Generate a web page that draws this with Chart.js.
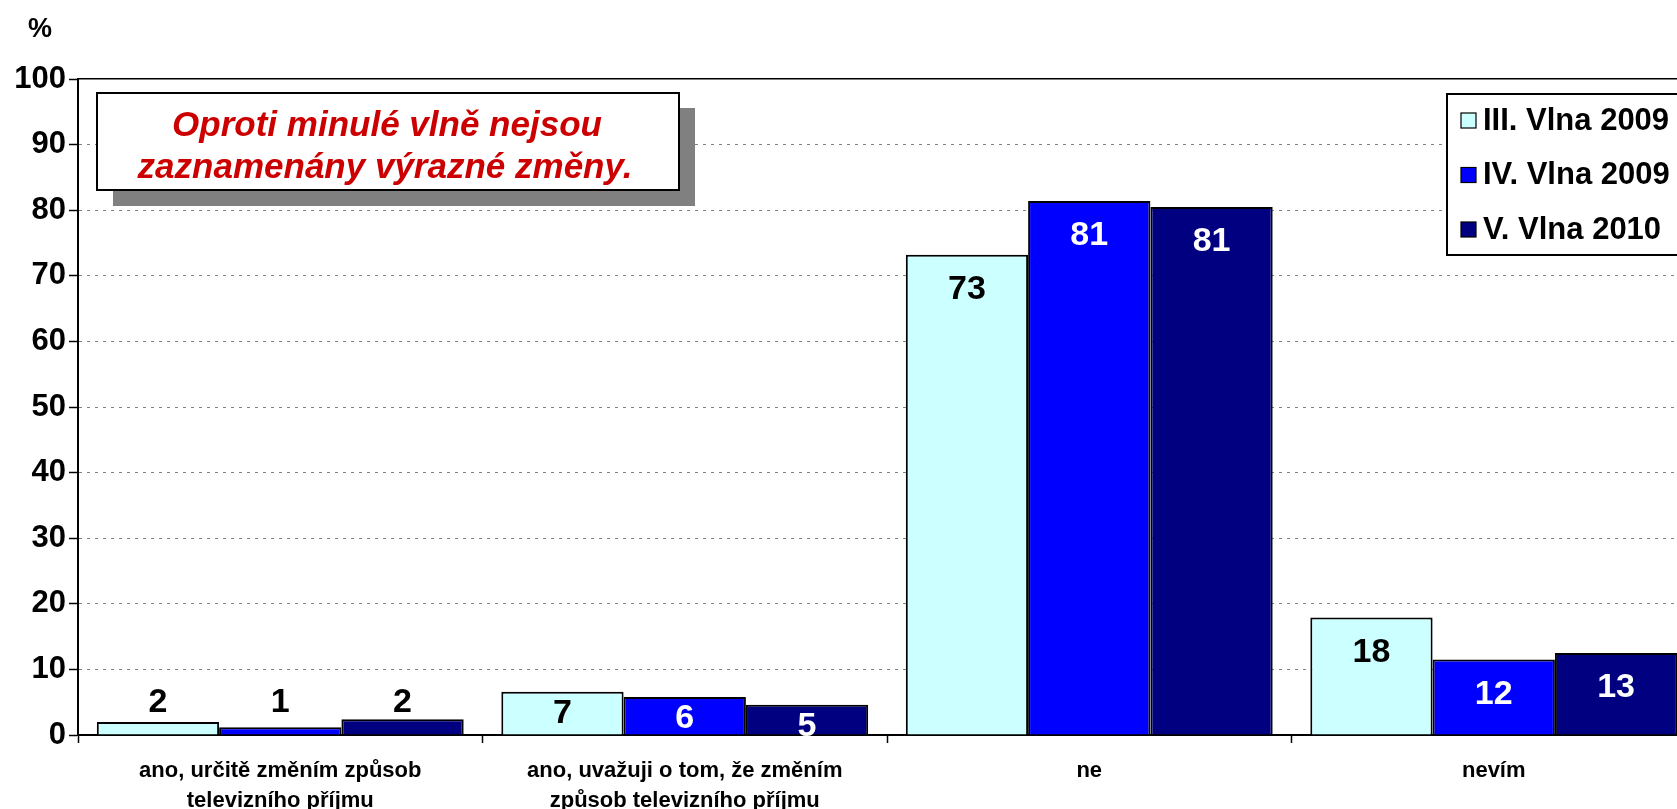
<!DOCTYPE html>
<html>
<head>
<meta charset="utf-8">
<script src="https://cdn.jsdelivr.net/npm/chart.js@4/dist/chart.umd.min.js"></script>
<style>
    html, body { margin: 0; padding: 0; background: #fff; overflow: hidden; }
    #wrap { width: 1696px; height: 809px; }
</style>
</head>
<body>
<div id="wrap"><canvas id="tvChart" width="1696" height="809"></canvas></div>
<script>
// Data
const categories = [
    ['ano, určitě změním způsob', 'televizního příjmu'],
    ['ano, uvažuji o tom, že změním', 'způsob televizního příjmu'],
    'ne',
    'nevím'
];
const seriesNames = ['III. Vlna 2009', 'IV. Vlna 2009', 'V. Vlna 2010'];
const wave3 = [2.0, 6.6, 73.2, 17.9];
const wave4 = [1.2, 5.8, 81.4, 11.5];
const wave5 = [2.4, 4.6, 80.5, 12.5];
const yTicks = [0, 10, 20, 30, 40, 50, 60, 70, 80, 90, 100];
const noteLines = ['Oproti minulé vlně nejsou', 'zaznamenány výrazné změny.'];

const FONT = "'Liberation Sans', Arial, sans-serif";
const barColors = ['#CCFFFF', '#0000FF', '#000080'];
const labelColors = ['#000', '#fff', '#fff'];

let tvChart = null;

// data labels, note box, legend, "%"
const overlayPlugin = {
    id: 'overlay',
    afterDatasetsDraw(chart) {
        const ctx = chart.ctx;
        ctx.save();
        ctx.font = 'bold 34px ' + FONT;
        ctx.textAlign = 'center';
        ctx.textBaseline = 'middle';
        chart.data.datasets.forEach((ds, di) => {
            const meta = chart.getDatasetMeta(di);
            meta.data.forEach((bar, i) => {
                const v = ds.data[i];
                const h = bar.base - bar.y;
                let y, color = labelColors[di];
                if (v < 3) {
                    y = bar.base - 32;
                    color = '#000';
                } else {
                    y = bar.y + Math.min(35, Math.max(22, h / 2));
                }
                ctx.fillStyle = color;
                ctx.fillText(String(Math.round(v)), bar.x, y);
            });
        });
        ctx.restore();
    },
    afterDraw(chart) {
        const ctx = chart.ctx;
        ctx.save();

        // "%" over the y axis
        ctx.fillStyle = '#000';
        ctx.font = 'bold 27px ' + FONT;
        ctx.textAlign = 'center';
        ctx.textBaseline = 'middle';
        ctx.fillText('%', 40, 30);

        // note box with shadow
        ctx.fillStyle = '#808080';
        ctx.fillRect(113, 108, 582, 98);
        ctx.fillStyle = '#fff';
        ctx.fillRect(97, 93, 582, 97);
        ctx.strokeStyle = '#000';
        ctx.lineWidth = 2;
        ctx.strokeRect(97, 93, 582, 97);
        ctx.fillStyle = '#CC0000';
        ctx.font = 'italic bold 35px ' + FONT;
        ctx.textBaseline = 'alphabetic';
        ctx.fillText(noteLines[0], 387, 136);
        ctx.fillText(noteLines[1], 385, 178);

        // legend box
        ctx.fillStyle = '#fff';
        ctx.fillRect(1447, 94, 300, 161);
        ctx.strokeStyle = '#000';
        ctx.lineWidth = 2;
        ctx.strokeRect(1447, 94, 300, 161);
        ctx.font = 'bold 31px ' + FONT;
        ctx.textAlign = 'left';
        ctx.textBaseline = 'middle';
        chart.data.datasets.forEach((ds, i) => {
            const cy = 120 + i * 54.5;
            ctx.fillStyle = ds.backgroundColor;
            ctx.fillRect(1461, cy - 7, 15, 15);
            ctx.lineWidth = 1.2;
            ctx.strokeStyle = '#000';
            ctx.strokeRect(1461, cy - 7, 15, 15);
            ctx.fillStyle = '#000';
            ctx.fillText(ds.label, 1483, cy + 1);
        });
        ctx.restore();
    }
};

function drawTvChart() {
    if (tvChart !== null) {
        tvChart.destroy();
    }
    const ctx = document.getElementById('tvChart').getContext('2d');
    const series = [wave3, wave4, wave5];

    tvChart = new Chart(ctx, {
        type: 'bar',
        data: {
            labels: categories,
            datasets: series.map((d, i) => ({
                label: seriesNames[i],
                data: d,
                backgroundColor: barColors[i],
                borderColor: '#000',
                borderWidth: 2,
                categoryPercentage: 0.907,
                barPercentage: 1.0
            }))
        },
        options: {
            responsive: false,
            animation: false,
            devicePixelRatio: 1,
            layout: { padding: { top: 79, left: 0, right: 0, bottom: 0 } },
            plugins: {
                legend: { display: false },
                tooltip: { enabled: false }
            },
            scales: {
                x: {
                    position: 'bottom',
                    grid: {
                        offset: true,
                        drawOnChartArea: false,
                        drawTicks: true,
                        tickLength: 8,
                        tickColor: '#000',
                        tickWidth: 1.5
                    },
                    border: { color: '#000', width: 2 },
                    ticks: {
                        color: '#000',
                        padding: 13,
                        font: { family: FONT, size: 22, weight: 'bold', lineHeight: '30px' },
                        maxRotation: 0,
                        autoSkip: false
                    },
                    afterFit: s => { s.height = 74; }
                },
                x2: {
                    type: 'category',
                    position: 'top',
                    labels: categories,
                    grid: { display: false, drawTicks: false },
                    ticks: { display: false },
                    border: { display: true, color: '#000', width: 1.5 },
                    afterFit: s => { s.height = 0; }
                },
                y: {
                    min: 0,
                    max: 100,
                    afterBuildTicks: s => { s.ticks = yTicks.map(v => ({ value: v })); },
                    grid: {
                        color: c => (c.tick && (c.tick.value === 0 || c.tick.value === 100)) ? 'rgba(0,0,0,0)' : '#808080',
                        lineWidth: 1,
                        drawTicks: true,
                        tickLength: 9,
                        tickColor: '#000',
                        tickWidth: 1.5
                    },
                    border: { color: '#000', width: 2, dash: [3, 5] },
                    ticks: {
                        color: '#000',
                        padding: 3,
                        font: { family: FONT, size: 31, weight: 'bold' }
                    },
                    afterFit: s => { s.width = 78; }
                }
            }
        },
        plugins: [overlayPlugin]
    });
}

document.addEventListener('DOMContentLoaded', function () {
    drawTvChart();
});
</script>
</body>
</html>
